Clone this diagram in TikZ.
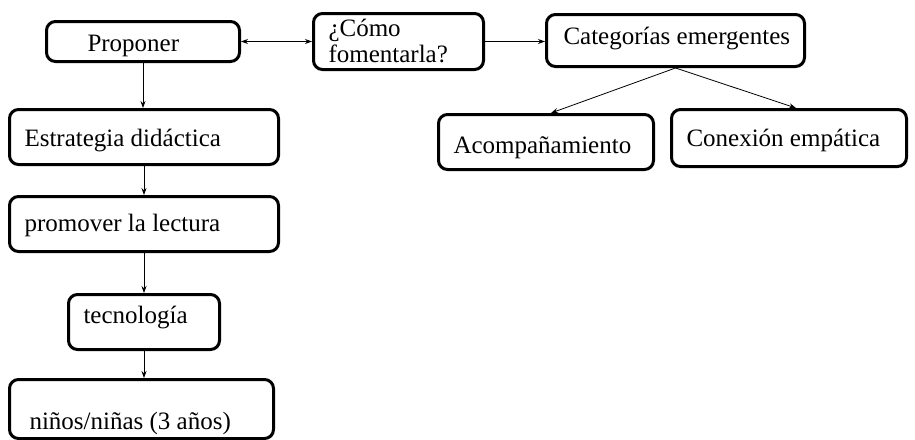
\documentclass[tikz,border=0pt]{standalone}
\usepackage{fontspec}
\setmainfont{Liberation Serif}
\usetikzlibrary{arrows.meta}
% left-aligned line of fixed width, free to run over on the right
\newcommand{\leftin}[2]{\makebox[#1][l]{#2}}
\begin{document}
\begin{tikzpicture}[x=1pt,y=-1pt,
  box/.style={draw, line width=3pt, rounded corners=9pt, anchor=north west,
    inner sep=0pt, font=\fontsize{25}{26}\selectfont},
  bl/.style={text height=18pt+#1, text depth=18pt-#1},
  link/.style={line width=0.8pt, -{Stealth[length=7pt,width=5pt]}}]
\useasboundingbox (0,0) rectangle (915,439);
% left column
\node[box, bl=10pt, minimum width=193, minimum height=40] (prop) at (45,20) {\leftin{111pt}{Proponer}};
\node[box, bl=9.5pt, minimum width=269, minimum height=55] (estr) at (8,108) {\leftin{239pt}{Estrategia didáctica}};
\node[box, bl=7.5pt, minimum width=269, minimum height=55] (prom) at (8,195) {\leftin{239pt}{promover la lectura}};
\node[box, bl=1.5pt, minimum width=151, minimum height=55] (tecn) at (67,293) {\leftin{121pt}{tecnología}};
\node[box, bl=22pt, minimum width=264, minimum height=59] (ninos) at (8,378) {\leftin{224pt}{niños/niñas (3 años)}};
% top row
\node[box, bl=23pt, minimum width=170, minimum height=56] (como) at (312,12) {\leftin{140pt}{\parbox[b]{140pt}{¿Cómo\\fomentarla?}}};
\node[box, bl=4pt, minimum width=258, minimum height=52] (cat) at (545,13) {\leftin{224pt}{Categorías emergentes}};
% categories
\node[box, bl=11pt, minimum width=215, minimum height=55] (acomp) at (437,113) {\leftin{185pt}{Acompañamiento}};
\node[box, bl=8.5pt, minimum width=235, minimum height=57] (conex) at (670,108) {\leftin{205pt}{Conexión empática}};
% connectors
\draw[line width=0.8pt, {Stealth[length=7pt,width=5pt]}-{Stealth[length=7pt,width=5pt]}] (prop.east) -- (prop.east -| como.west);
\draw[link] (como.east |- prop.east) -- (cat.west |- prop.east);
\draw[link] (prop.south) -- (prop.south |- estr.north);
\draw[link] (estr.south) -- (estr.south |- prom.north);
\draw[link] (prom.south) -- (prom.south |- tecn.north);
\draw[link] (tecn.south) -- (tecn.south |- ninos.north);
\draw[link] (cat.south) -- ([xshift=5pt]acomp.north);
\draw[link] (cat.south) -- ([xshift=7pt]conex.north);
\end{tikzpicture}
\end{document}
